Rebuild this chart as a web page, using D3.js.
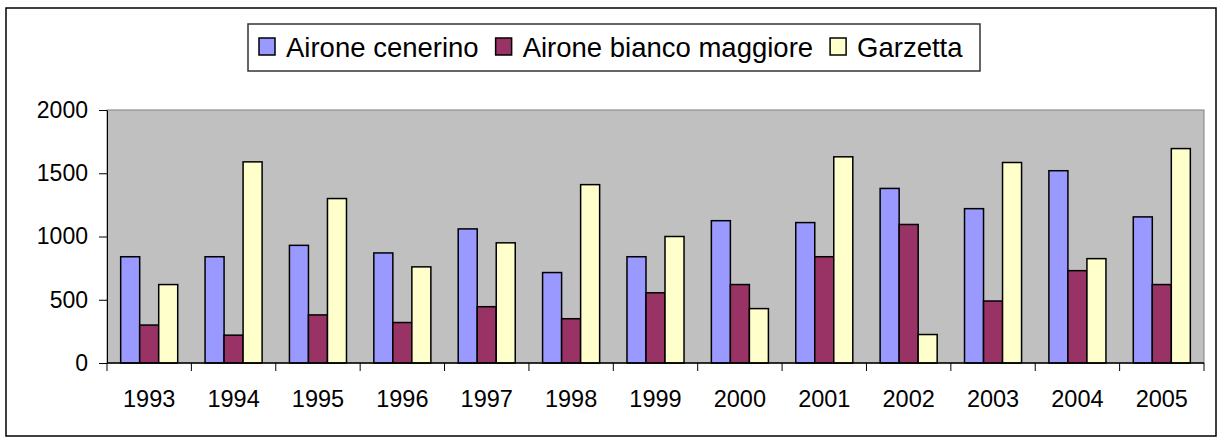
<!DOCTYPE html>
<html>
<head>
<meta charset="utf-8">
<script src="https://cdn.jsdelivr.net/npm/d3@7"></script>
<style>
  html, body { margin: 0; padding: 0; background: #fff; }
  svg text { font-family: "Liberation Sans", Arial, sans-serif; fill: #000; }
</style>
</head>
<body>
<svg width="1223" height="443"></svg>
<script>
let years = ["1993", "1994", "1995", "1996", "1997", "1998", "1999", "2000", "2001", "2002", "2003", "2004", "2005"];
let series = ["Airone cenerino", "Airone bianco maggiore", "Garzetta"];
let colors = ["#9999ff", "#993366", "#ffffcc"];
let cenerino = [840, 840, 930, 870, 1060, 715, 840, 1125, 1110, 1380, 1220, 1520, 1155];
let biancoMaggiore = [300, 220, 380, 320, 445, 350, 555, 620, 840, 1095, 490, 730, 620];
let garzetta = [620, 1590, 1300, 760, 950, 1410, 1000, 430, 1630, 225, 1585, 825, 1695];
let yTicks = [0, 500, 1000, 1500, 2000];

let values = [cenerino, biancoMaggiore, garzetta];
let rows = years.map((y, i) => ({ year: y, vals: values.map((v, k) => ({ key: series[k], color: colors[k], v: v[i] })) }));

let svg = d3.select("svg");

// outer frame
svg.append("rect")
  .attr("x", 6).attr("y", 8).attr("width", 1210).attr("height", 428)
  .attr("fill", "#fff").attr("stroke", "#000").attr("stroke-width", 1.5);

let plot = { left: 107, right: 1204, top: 110, bottom: 363 };

let x0 = d3.scaleBand().domain(years).range([plot.left, plot.right]).padding(0);
let inset = x0.bandwidth() * 0.162;
let x1 = d3.scaleBand().domain(series).range([inset, x0.bandwidth() - inset]).padding(0);
let y = d3.scaleLinear().domain([0, 2000]).range([plot.bottom, plot.top]);

// plot area
svg.append("rect")
  .attr("x", plot.left).attr("y", plot.top)
  .attr("width", plot.right - plot.left).attr("height", plot.bottom - plot.top)
  .attr("fill", "#c0c0c0").attr("stroke", "#808080").attr("stroke-width", 1);

// bars
let g = svg.append("g");
g.selectAll("g.year")
  .data(rows).join("g")
  .attr("class", "year")
  .attr("transform", d => `translate(${x0(d.year)},0)`)
  .selectAll("rect")
  .data(d => d.vals).join("rect")
  .attr("x", d => x1(d.key))
  .attr("y", d => y(d.v))
  .attr("width", x1.bandwidth())
  .attr("height", d => y(0) - y(d.v))
  .attr("fill", d => d.color)
  .attr("stroke", "#000")
  .attr("stroke-width", 1.5);

// y axis
let yAxis = svg.append("g")
  .attr("transform", `translate(${plot.left},0)`)
  .call(d3.axisLeft(y).tickValues(yTicks).tickFormat(d3.format("d"))
    .tickSize(8).tickPadding(11).tickSizeOuter(0));
yAxis.select(".domain").attr("stroke", "#000");
yAxis.selectAll(".tick line").attr("stroke", "#000");
yAxis.selectAll("text").attr("font-size", 23).attr("fill", "#000")
  .style("font-family", "'Liberation Sans', Arial, sans-serif");

// x axis: ticks at category boundaries
let xAxis = svg.append("g").attr("transform", `translate(0,${plot.bottom})`);
xAxis.append("line")
  .attr("x1", plot.left).attr("x2", plot.right)
  .attr("stroke", "#000").attr("stroke-width", 1.5);
let bounds = years.map(yr => x0(yr)).concat([plot.right]);
xAxis.selectAll("line.tk").data(bounds).join("line")
  .attr("class", "tk")
  .attr("x1", d => d).attr("x2", d => d)
  .attr("y1", 0).attr("y2", 8)
  .attr("stroke", "#000");
xAxis.selectAll("text").data(years).join("text")
  .attr("x", d => x0(d) + x0.bandwidth() / 2)
  .attr("y", 44)
  .attr("text-anchor", "middle")
  .attr("font-size", 23.5)
  .text(d => d);

// legend
let legend = svg.append("g");
legend.append("rect")
  .attr("x", 248).attr("y", 24).attr("width", 732).attr("height", 47)
  .attr("fill", "#fff").attr("stroke", "#333").attr("stroke-width", 1.5);
let lx = 259;
series.forEach((s, k) => {
  legend.append("rect")
    .attr("x", lx).attr("y", 38).attr("width", 16).attr("height", 17)
    .attr("fill", colors[k]).attr("stroke", "#000").attr("stroke-width", 1.5);
  let t = legend.append("text")
    .attr("x", lx + 27).attr("y", 57)
    .attr("font-size", 27.5)
    .text(s);
  lx += 27 + t.node().getComputedTextLength() + 17;
});
</script>
</body>
</html>
